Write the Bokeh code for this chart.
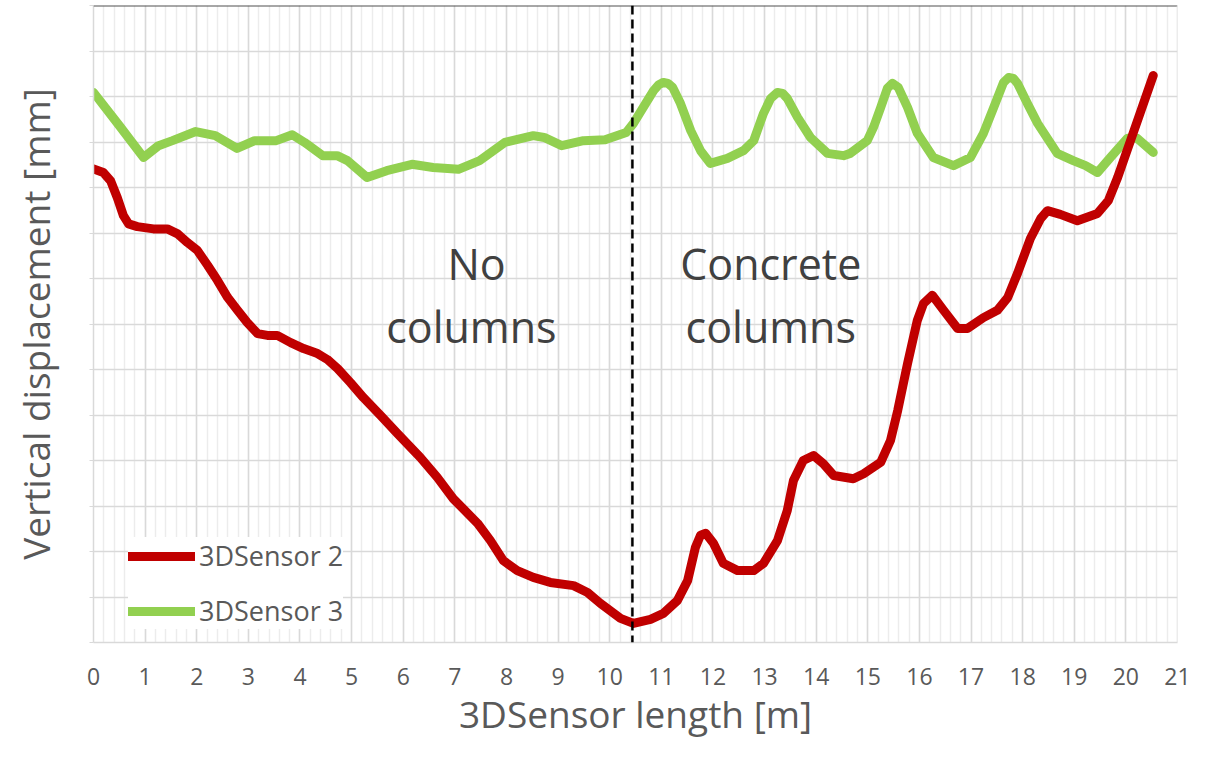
from bokeh.plotting import figure
from bokeh.models import (Span, Label, Legend, LegendItem, SingleIntervalTicker, Range1d)
from bokeh.embed import file_html
from bokeh.resources import INLINE

# ---- data (y in grid units, 0 = bottom of plot) ----
s2_x = [0, 0.19, 0.33, 0.46, 0.58, 0.68, 0.85, 1.16, 1.43, 1.63, 1.82, 2.01, 2.21, 2.40,
        2.60, 2.79, 2.98, 3.18, 3.37, 3.56, 3.82, 4.07, 4.34, 4.53, 4.73, 4.98, 5.23,
        5.56, 5.89, 6.33, 6.66, 6.97, 7.44, 7.69, 7.94, 8.21, 8.52, 8.85, 9.30, 9.57,
        9.82, 10.21, 10.46, 10.79, 11.04, 11.31, 11.51, 11.66, 11.76, 11.86, 12.01,
        12.20, 12.48, 12.79, 12.98, 13.25, 13.44, 13.56, 13.75, 13.95, 14.14, 14.34,
        14.72, 14.92, 15.25, 15.44, 15.58, 15.77, 15.96, 16.08, 16.25, 16.47, 16.74,
        16.93, 17.24, 17.51, 17.71, 17.90, 18.15, 18.35, 18.48, 18.73, 19.06, 19.45,
        19.66, 19.84, 20.09, 20.53]
s2_y = [10.41, 10.33, 10.15, 9.78, 9.38, 9.20, 9.14, 9.09, 9.09, 8.98, 8.79, 8.62, 8.29,
        7.96, 7.58, 7.30, 7.03, 6.79, 6.75, 6.75, 6.59, 6.46, 6.35, 6.22, 6.02, 5.71,
        5.38, 4.99, 4.59, 4.07, 3.63, 3.16, 2.62, 2.24, 1.80, 1.58, 1.43, 1.32, 1.25,
        1.10, 0.86, 0.53, 0.42, 0.51, 0.64, 0.92, 1.36, 2.09, 2.36, 2.40, 2.18, 1.74,
        1.58, 1.58, 1.74, 2.24, 2.90, 3.56, 4.00, 4.11, 3.93, 3.67, 3.60, 3.71, 3.96,
        4.44, 5.10, 6.13, 7.08, 7.45, 7.63, 7.30, 6.90, 6.90, 7.14, 7.30, 7.58, 8.11,
        8.88, 9.32, 9.49, 9.41, 9.27, 9.43, 9.71, 10.22, 11.03, 12.46]

s3_x = [0, 0.50, 0.97, 1.26, 1.53, 1.98, 2.36, 2.78, 3.12, 3.54, 3.85, 4.09, 4.44, 4.72,
        4.92, 5.30, 5.68, 6.17, 6.58, 7.07, 7.48, 7.97, 8.52, 8.73, 9.07, 9.49, 9.91,
        10.32, 10.46, 10.65, 10.85, 10.95, 11.04, 11.13, 11.22, 11.37, 11.57, 11.76,
        11.95, 12.28, 12.59, 12.79, 12.98, 13.12, 13.25, 13.35, 13.44, 13.64, 13.89,
        14.22, 14.53, 14.66, 14.99, 15.11, 15.25, 15.38, 15.48, 15.59, 15.77, 15.96,
        16.27, 16.66, 16.99, 17.24, 17.44, 17.63, 17.73, 17.82, 17.90, 18.09, 18.29,
        18.67, 18.98, 19.22, 19.45, 19.70, 20.03, 20.22, 20.53]
s3_y = [12.09, 11.36, 10.66, 10.92, 11.03, 11.23, 11.14, 10.86, 11.03, 11.03, 11.16,
        10.99, 10.70, 10.70, 10.59, 10.22, 10.37, 10.51, 10.44, 10.40, 10.59, 10.99,
        11.14, 11.10, 10.92, 11.03, 11.05, 11.21, 11.41, 11.76, 12.13, 12.26, 12.31,
        12.29, 12.20, 11.85, 11.25, 10.81, 10.53, 10.64, 10.81, 11.03, 11.63, 11.96,
        12.09, 12.07, 11.96, 11.54, 11.10, 10.75, 10.70, 10.75, 11.03, 11.32, 11.76,
        12.18, 12.29, 12.20, 11.76, 11.19, 10.66, 10.48, 10.66, 11.19, 11.76, 12.31,
        12.42, 12.40, 12.29, 11.85, 11.41, 10.75, 10.59, 10.48, 10.33, 10.66, 11.08,
        11.08, 10.77]

series_names = ["3DSensor 2", "3DSensor 3"]
divider_x = 10.44
annotations = [("No", 7.42, 8.32), ("columns", 7.32, 6.95),
               ("Concrete", 13.12, 8.32), ("columns", 13.12, 6.95)]

FONT = "Open Sans"
GRAY = "#595959"

p = figure(width=1202, height=742, output_backend="svg", toolbar_location=None,
           x_range=Range1d(0, 21), y_range=Range1d(0, 14),
           min_border_left=93, min_border_right=25, min_border_top=5, min_border_bottom=100)
p.outline_line_color = None
p.background_fill_color = "white"

# grids
p.xaxis.ticker = SingleIntervalTicker(interval=1, num_minor_ticks=5)
p.yaxis.ticker = SingleIntervalTicker(interval=1, num_minor_ticks=0)
p.xgrid.grid_line_color = "#d9d9d9"
p.xgrid.grid_line_width = 1.5
p.xgrid.minor_grid_line_color = "#ececec"
p.xgrid.minor_grid_line_width = 1.5
p.ygrid.grid_line_color = "#d9d9d9"
p.ygrid.grid_line_width = 1.5

# x axis
p.xaxis.axis_line_color = "#d9d9d9"
p.xaxis.axis_line_width = 1.5
p.xaxis.major_tick_line_color = None
p.xaxis.minor_tick_line_color = None
p.xaxis.major_label_text_font = FONT
p.xaxis.major_label_text_font_size = "23px"
p.xaxis.major_label_text_color = GRAY
p.xaxis.major_label_standoff = 19
p.xaxis.axis_label = "3DSensor length [m]"
p.xaxis.axis_label_text_font = FONT
p.xaxis.axis_label_text_font_size = "37px"
p.xaxis.axis_label_text_font_style = "normal"
p.xaxis.axis_label_text_color = GRAY
p.xaxis.axis_label_standoff = 0

# y axis
p.yaxis.axis_line_color = "#d9d9d9"
p.yaxis.axis_line_width = 1.5
p.yaxis.major_tick_line_color = "#d9d9d9"
p.yaxis.major_tick_out = 4
p.yaxis.major_tick_in = 0
p.yaxis.minor_tick_line_color = None
p.yaxis.major_label_text_font_size = "0px"
p.yaxis.major_label_text_color = None
p.yaxis.axis_label = "Vertical displacement [mm]"
p.yaxis.axis_label_text_font = FONT
p.yaxis.axis_label_text_font_size = "37px"
p.yaxis.axis_label_text_font_style = "normal"
p.yaxis.axis_label_text_color = GRAY
p.yaxis.axis_label_standoff = 29

# borders
p.add_layout(Span(location=14, dimension="width", line_color="#505050", line_width=2))
p.add_layout(Span(location=21, dimension="height", line_color="#d9d9d9", line_width=1.5))

# divider
p.add_layout(Span(location=divider_x, dimension="height", line_color="black",
                  line_width=2.5, line_dash="9 5"))

g = p.line(s3_x, s3_y, line_color="#92d050", line_width=9, line_join="round", line_cap="round")
r = p.line(s2_x, s2_y, line_color="#c00000", line_width=9, line_join="round", line_cap="round")

for txt, x, y in annotations:
    p.add_layout(Label(x=x, y=y, text=txt, text_align="center", text_baseline="alphabetic",
                       text_font=FONT, text_font_size="43px", text_color="#404040"))

legend = Legend(items=[LegendItem(label=series_names[0], renderers=[r]),
                       LegendItem(label=series_names[1], renderers=[g])],
                location=(35, 13), border_line_color=None, background_fill_color="white",
                background_fill_alpha=1.0, padding=13, margin=0, spacing=18,
                glyph_width=67, glyph_height=34, label_standoff=4,
                label_text_font=FONT, label_text_font_size="27px", label_text_color=GRAY)
p.add_layout(legend)

open("out.html", "w").write(file_html(p, INLINE))
